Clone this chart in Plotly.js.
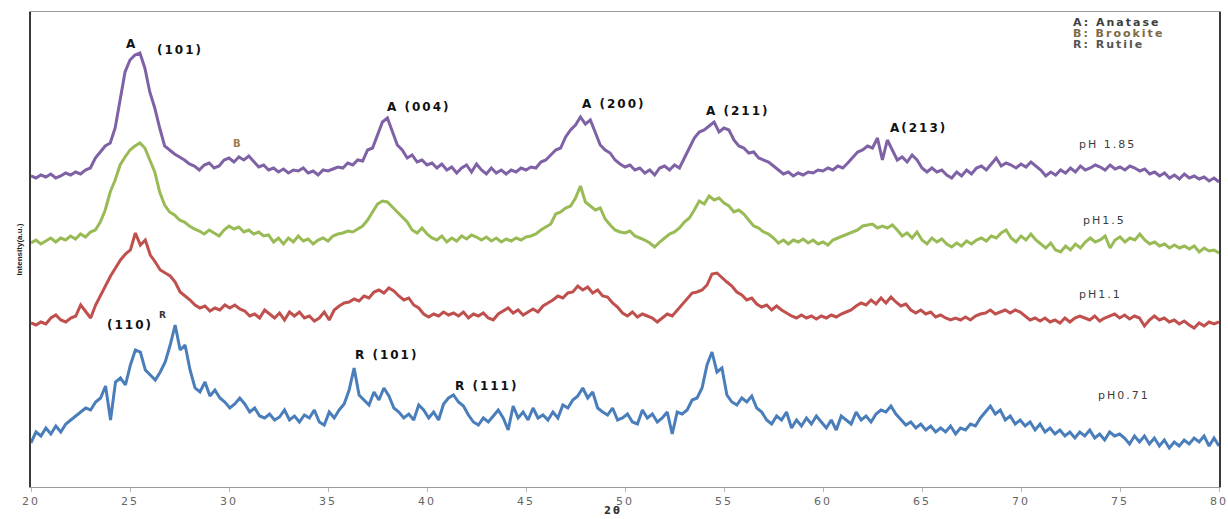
<!DOCTYPE html>
<html>
<head>
<meta charset="utf-8">
<script src="https://cdn.plot.ly/plotly-3.0.1.min.js"></script>
<style>
  html, body { margin: 0; padding: 0; background: #fff; }
  #chart { width: 1228px; height: 519px; }
  .annotation-text { letter-spacing: 2px; }
  .xtick text { letter-spacing: 2px; }
</style>
</head>
<body>
<div id="chart"></div>
<script>
// 2θ range sampled every 0.25° from 20 to 80 (241 readings per pattern)
const twoThetaStart = 20;
const twoThetaEnd = 80;

// Intensity (a.u.), pH 1.85 (purple)
const pH185 = [311,309,312,310,313,309,311,314,312,315,313,317,319,329,335,341,344,359,387,415,427,432,434,419,395,379,359,341,337,333,330,327,323,321,317,322,324,319,321,327,329,325,330,327,331,325,320,322,317,319,315,318,314,317,316,319,314,316,312,317,316,318,320,319,324,322,327,326,337,339,352,365,369,355,342,337,329,332,325,327,322,324,319,323,317,320,314,319,322,315,323,317,313,319,314,317,313,317,315,319,317,320,319,325,327,332,337,339,350,357,362,370,363,367,354,342,337,334,327,323,320,322,317,319,314,317,312,319,321,317,322,319,329,339,349,355,357,361,365,355,359,357,347,341,339,334,335,329,327,325,321,317,313,315,311,314,312,315,314,317,316,319,317,321,319,324,329,335,337,341,339,349,327,347,337,327,330,325,332,327,319,315,319,315,317,312,309,315,311,317,313,319,321,317,323,329,321,324,322,319,323,320,325,321,317,311,315,312,317,314,319,315,321,317,319,322,320,317,322,318,320,317,321,319,316,318,313,315,311,314,309,312,308,313,309,311,308,310,306,309,305];

// pH 1.5 (green)
const pH15 = [244,247,243,246,249,245,249,247,251,248,253,250,255,257,265,277,295,307,322,330,337,341,344,339,327,315,295,282,275,272,267,265,261,258,256,253,257,254,251,257,261,258,260,255,257,253,255,251,252,245,249,243,249,245,251,246,248,243,247,249,246,251,253,254,256,255,258,261,267,275,283,286,285,280,275,270,265,257,254,259,253,249,247,251,245,249,246,251,248,252,250,247,250,246,249,245,248,246,249,247,250,251,253,257,260,263,273,275,279,281,289,301,285,281,277,279,268,262,257,255,254,256,251,249,247,244,240,245,249,253,255,259,265,269,277,286,283,291,287,289,284,281,275,277,273,267,261,259,255,253,249,244,247,243,247,245,248,244,247,243,245,242,247,249,251,253,255,257,261,262,263,259,261,259,262,257,251,254,249,255,247,243,249,245,248,243,240,244,241,246,243,247,249,246,251,249,254,257,249,245,251,247,253,247,243,239,244,237,235,241,237,243,239,245,249,245,247,251,239,247,250,245,249,247,253,247,243,245,241,243,239,242,239,241,238,241,235,239,236,237,234];

// pH 1.1 (red)
const pH11 = [164,162,165,163,169,172,167,165,169,171,182,175,169,182,192,202,211,219,227,233,237,254,242,247,232,225,217,214,211,205,195,191,187,182,179,181,176,179,177,182,179,182,178,176,171,173,169,177,173,169,174,167,175,171,175,169,171,166,169,175,167,177,181,184,185,188,186,191,189,195,197,194,199,196,191,187,189,182,179,173,170,173,171,175,172,174,171,175,169,173,171,174,169,167,173,176,179,174,177,172,175,178,175,181,184,187,191,189,194,195,201,197,200,194,197,191,190,184,180,174,171,175,170,173,171,169,165,169,173,171,177,182,189,194,195,197,202,213,214,209,205,201,195,192,187,189,183,180,182,177,181,177,174,171,169,172,169,171,168,171,169,172,170,173,175,177,181,184,182,187,183,189,184,190,185,181,183,177,174,177,173,175,170,172,169,167,169,167,170,167,171,173,174,177,173,175,177,174,177,175,171,167,169,166,169,165,167,164,169,165,169,171,169,167,171,166,169,171,173,169,172,168,171,169,161,167,171,167,169,165,167,163,166,162,159,164,161,165,163,165];

// pH 0.71 (blue)
const pH071 = [44,55,51,59,53,61,55,63,67,71,75,79,77,85,89,101,67,105,109,102,122,137,135,117,112,107,115,125,142,162,137,142,117,99,95,105,91,97,89,85,79,83,89,83,75,79,71,69,73,67,70,77,67,71,65,72,69,77,65,62,75,69,77,83,97,119,92,87,82,95,87,99,91,79,75,69,73,67,82,77,69,75,67,83,89,92,85,81,72,65,62,69,65,71,77,69,57,81,69,75,67,79,69,72,67,75,69,82,79,87,91,99,89,95,79,75,72,79,67,69,73,65,63,77,69,73,65,69,75,53,75,73,77,87,89,99,122,135,115,119,92,85,82,89,85,91,79,75,67,63,71,67,75,59,67,61,69,63,71,65,59,67,57,71,67,63,75,67,71,65,73,77,75,81,73,67,62,65,59,63,57,61,55,59,55,61,53,59,57,63,61,69,75,81,73,77,67,71,63,67,61,65,57,63,55,59,53,57,51,55,49,55,51,57,49,53,47,55,51,53,49,43,51,45,51,43,49,41,47,39,45,41,47,43,49,45,51,41,49,41];

const seriesNames = ["pH 1.85", "pH 1.5", "pH 1.1", "pH 0.71"];
const seriesValues = [pH185, pH15, pH11, pH071];
const seriesColors = ["#7f62a6", "#98bb55", "#c0504d", "#4a7ebb"];

const xTicks = [20,25,30,35,40,45,50,55,60,65,70,75,80];

function grid(n) {
  const out = [];
  for (let i = 0; i < n; i++) out.push(twoThetaStart + i * (twoThetaEnd - twoThetaStart) / (n - 1));
  return out;
}

const traces = seriesValues.map((vals, k) => ({
  type: "scatter",
  mode: "lines",
  name: seriesNames[k],
  x: grid(vals.length),
  y: vals,
  line: { color: seriesColors[k], width: 3, shape: "linear" },
  hoverinfo: "x+y+name"
}));

const peakFont = { family: "DejaVu Sans", size: 12, color: "#111" };
const phFont = { family: "DejaVu Sans", size: 11, color: "#3c3c3c" };
const keyFont = (c) => ({ family: "DejaVu Sans", size: 11, color: c });

function lab(text, x, y, font) {
  return { text: text, x: x, y: y, xref: "x", yref: "y", showarrow: false, font: font, xanchor: "center", yanchor: "middle" };
}
function key(text, y, color) {
  return { text: text, x: 72.5, y: y, xref: "x", yref: "y", xanchor: "left", yanchor: "middle", showarrow: false, font: keyFont(color) };
}

const annotations = [
  lab("<b>A</b>", 25.1, 443, peakFont),
  lab("<b>(101)</b>", 27.5, 437, peakFont),
  lab("<b>B</b>", 30.45, 344, { family: "DejaVu Sans", size: 10, color: "#9c7a4c" }),
  lab("<b>A (004)</b>", 39.55, 380, peakFont),
  lab("<b>A (200)</b>", 49.4, 383, peakFont),
  lab("<b>A (211)</b>", 55.66, 376, peakFont),
  lab("<b>A(213)</b>", 64.8, 359, peakFont),
  lab("<b>(110)</b>", 25.0, 162, peakFont),
  lab("<b>R</b>", 26.7, 172, { family: "DejaVu Sans", size: 9, color: "#333" }),
  lab("<b>R (101)</b>", 37.93, 132, peakFont),
  lab("<b>R (111)</b>", 43.03, 101, peakFont),
  lab("pH 1.85", 74.35, 343, phFont),
  lab("pH1.5", 74.24, 267, phFont),
  lab("pH1.1", 74.04, 193, phFont),
  lab("pH0.71", 75.2, 92, phFont),
  key("<b>A: Anatase</b>", 465, "#404040"),
  key("<b>B: Brookite</b>", 454, "#7d6a45"),
  key("<b>R: Rutile</b>", 443, "#555555"),
  // x-axis title (2θ), at the bottom edge as in the source figure
  { text: "<b>2θ</b>", xref: "paper", yref: "paper", x: 0.49, y: -0.0653, xanchor: "center", yanchor: "bottom",
    showarrow: false, font: { family: "DejaVu Sans", size: 10, color: "#333" } }
];

const layout = {
  width: 1228,
  height: 519,
  margin: { l: 31, r: 9, t: 12, b: 32, pad: 0 },
  paper_bgcolor: "#ffffff",
  plot_bgcolor: "#ffffff",
  showlegend: false,
  xaxis: {
    range: [20, 80],
    tickvals: xTicks,
    ticktext: xTicks.map(String),
    ticks: "outside",
    ticklen: 4,
    tickcolor: "#b5b5b5",
    tickfont: { family: "DejaVu Sans", size: 11, color: "#666" },
    showline: true,
    linecolor: "#9a9a9a",
    linewidth: 1,
    mirror: true,
    showgrid: false,
    zeroline: false
  },
  yaxis: {
    range: [0, 475],
    showticklabels: false,
    ticks: "",
    showline: true,
    linecolor: "#3a3a3a",
    linewidth: 2,
    mirror: true,
    showgrid: false,
    zeroline: false,
    title: { text: "<b>Intensity(a.u.)</b>", font: { family: "Liberation Sans Narrow, Liberation Sans", size: 8, color: "#222" }, standoff: 5 }
  },
  annotations: annotations
};

Plotly.newPlot("chart", traces, layout, { displayModeBar: false, staticPlot: true });
</script>
</body>
</html>
